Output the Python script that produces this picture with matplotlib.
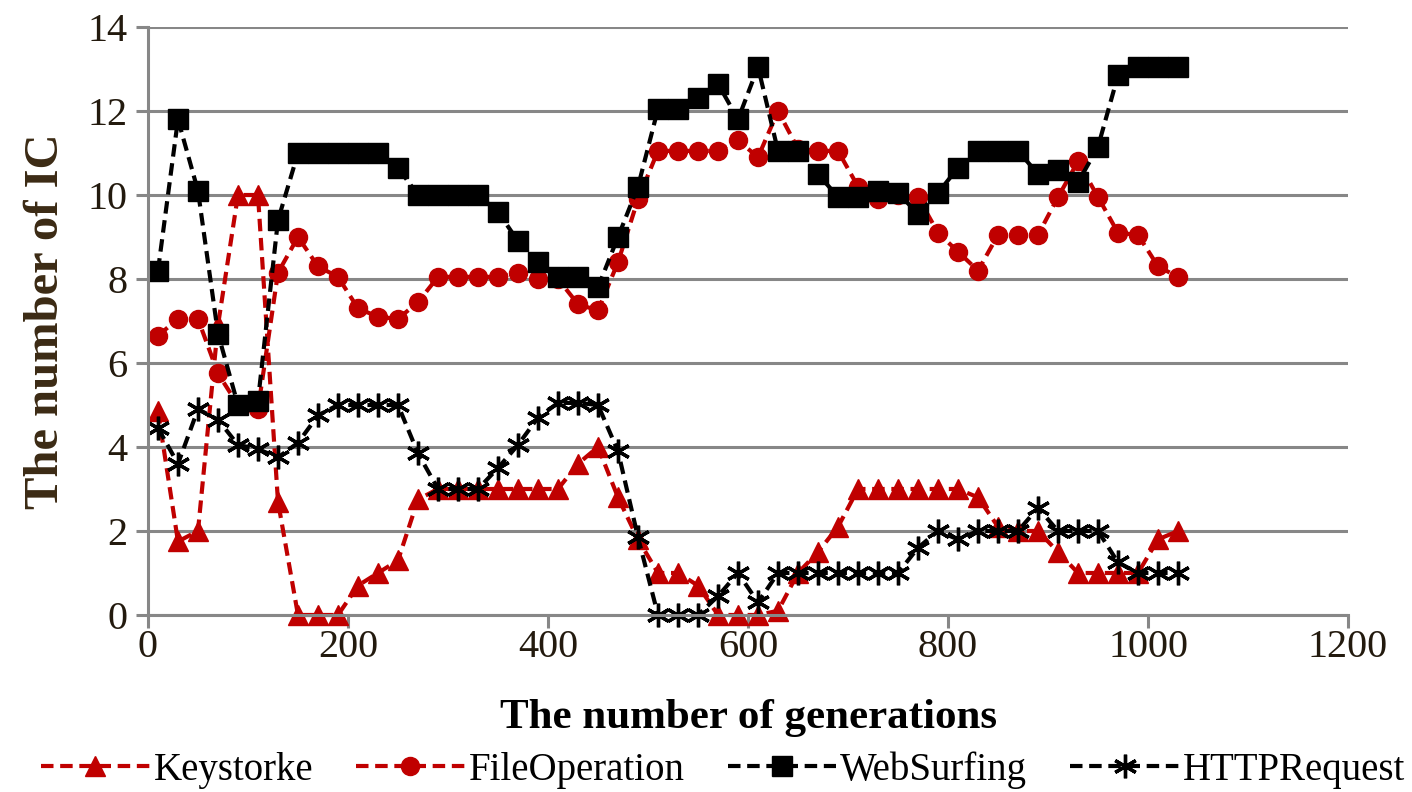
import matplotlib
matplotlib.use('Agg')
import matplotlib.pyplot as plt

# generations (every 20th, starting at 10)
generations = list(range(10, 1031, 20))

keystroke = [4.85, 1.75, 2.0, 6.9, 10.0, 10.0, 2.7, 0.0, 0.0, 0.0,
             0.7, 1.0, 1.3, 2.75, 3.0, 3.0, 3.0, 3.0, 3.0, 3.0,
             3.0, 3.6, 4.0, 2.8, 1.8, 1.0, 1.0, 0.7, 0.0, 0.0,
             0.0, 0.1, 1.0, 1.5, 2.1, 3.0, 3.0, 3.0, 3.0, 3.0,
             3.0, 2.8, 2.1, 2.0, 2.0, 1.5, 1.0, 1.0, 1.0, 1.0,
             1.8, 2.0]

file_operation = [6.65, 7.05, 7.05, 5.75, 5.0, 4.9, 8.15, 9.0, 8.3, 8.05,
                  7.3, 7.1, 7.05, 7.45, 8.05, 8.05, 8.05, 8.05, 8.15, 8.0,
                  8.0, 7.4, 7.25, 8.4, 9.9, 11.05, 11.05, 11.05, 11.05, 11.3,
                  10.9, 12.0, 11.1, 11.05, 11.05, 10.2, 9.9, 10.0, 9.95, 9.1,
                  8.65, 8.2, 9.05, 9.05, 9.05, 9.95, 10.8, 9.95, 9.1, 9.05,
                  8.3, 8.05]

web_surfing = [8.2, 11.8, 10.1, 6.7, 5.0, 5.1, 9.4, 11.0, 11.0, 11.0,
               11.0, 11.0, 10.65, 10.0, 10.0, 10.0, 10.0, 9.6, 8.9, 8.4,
               8.05, 8.05, 7.8, 9.0, 10.2, 12.05, 12.05, 12.3, 12.65, 11.8,
               13.05, 11.05, 11.05, 10.5, 9.95, 9.95, 10.1, 10.05, 9.55, 10.05,
               10.65, 11.05, 11.05, 11.05, 10.5, 10.6, 10.3, 11.15, 12.85, 13.05,
               13.05, 13.05]

http_request = [4.45, 3.6, 4.9, 4.65, 4.05, 3.95, 3.75, 4.1, 4.75, 5.0,
                5.0, 5.0, 5.0, 3.85, 3.0, 3.0, 3.0, 3.5, 4.05, 4.7,
                5.05, 5.05, 5.0, 3.9, 1.85, 0.0, 0.0, 0.0, 0.45, 1.0,
                0.3, 1.0, 1.0, 1.0, 1.0, 1.0, 1.0, 1.0, 1.6, 2.0,
                1.8, 2.0, 2.0, 2.0, 2.55, 2.0, 2.0, 2.0, 1.25, 1.0,
                1.0, 1.0]

plt.rcParams['font.family'] = ['Liberation Serif', 'DejaVu Serif']

RED = '#C00000'
GRID = '#878787'

fig = plt.figure(figsize=(14.12, 7.92), dpi=100)
ax = fig.add_axes([0.1048, 0.2235, 0.8499, 0.7424])

line_kw = dict(linestyle='--', dashes=(3, 1.6), linewidth=3.0, clip_on=False)
ax.plot(generations, keystroke, color=RED, marker='^', markersize=15,
        label='Keystorke', **line_kw)
ax.plot(generations, file_operation, color=RED, marker='o', markersize=13,
        label='FileOperation', **line_kw)
ax.plot(generations, web_surfing, color='black', marker='s', markersize=15,
        label='WebSurfing', **line_kw)
ax.plot(generations, http_request, color='black', marker=(6, 2, 0), markersize=17,
        markeredgewidth=2.4, label='HTTPRequest', **line_kw)

ax.set_xlim(0, 1200)
ax.set_ylim(0, 14)
ax.set_xticks(range(0, 1201, 200))
ax.set_yticks(range(0, 15, 2))
ax.yaxis.grid(True, color=GRID, linewidth=2.2)
ax.set_axisbelow(True)
for side in ['top', 'right']:
    ax.spines[side].set_visible(False)
for side in ['left', 'bottom']:
    ax.spines[side].set_color(GRID)
    ax.spines[side].set_linewidth(2.2)
ax.tick_params(axis='both', colors=GRID, width=2.2, length=9, labelsize=29,
               labelcolor='#231a0e')
ax.tick_params(axis='y', pad=6)
ax.tick_params(axis='x', pad=1)

ax.set_xlabel('The number of generations', fontsize=31, fontweight='bold', labelpad=24)
ax.set_ylabel('The number of IC', fontsize=35, fontweight='bold', labelpad=14,
              color='#3b2a14')

fig.legend(loc='center', bbox_to_anchor=(0.512, 0.028), ncol=4, frameon=False,
           fontsize=28, handlelength=2.8, handletextpad=0.1, columnspacing=1.1)

fig.savefig('out.png', dpi=100)
